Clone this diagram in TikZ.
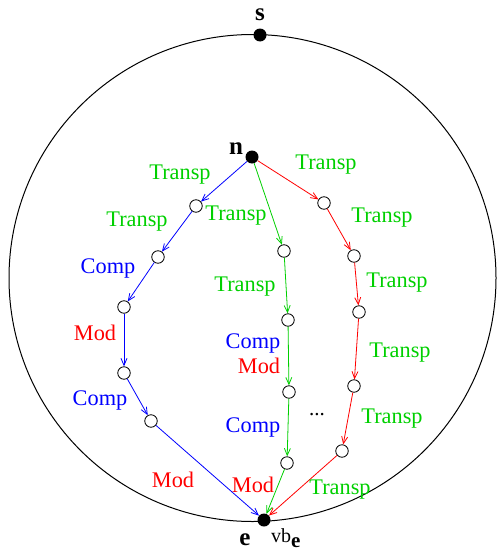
\documentclass[tikz,border=0pt]{standalone}
\usepackage{fontspec}
\setmainfont{Liberation Serif}
\usetikzlibrary{arrows.meta}
\definecolor{xgreen}{RGB}{0,208,0}
\definecolor{xblue}{RGB}{0,0,255}
\definecolor{xred}{RGB}{255,0,0}
\tikzset{
  vtx/.style={circle,fill=black,inner sep=0pt,minimum size=13pt},
  ovtx/.style={circle,draw=black,fill=white,line width=0.8pt,inner sep=0pt,minimum size=12.5pt},
  bline/.style={xblue,line width=0.8pt,-{Straight Barb[length=7pt,width=6pt]}},
  gline/.style={xgreen,line width=0.8pt,-{Straight Barb[length=7pt,width=6pt]}},
  rline/.style={xred,line width=0.8pt,-{Straight Barb[length=7pt,width=6pt]}},
  tlab/.style={font=\fontsize{22.3}{26}\selectfont,text=xgreen,inner sep=0pt},
  clab/.style={font=\fontsize{22.3}{26}\selectfont,text=xblue,inner sep=0pt},
  mlab/.style={font=\fontsize{22.3}{26}\selectfont,text=xred,inner sep=0pt},
  plab/.style={font=\fontsize{25}{30}\selectfont\bfseries,inner sep=0pt}
}
\begin{document}
\begin{tikzpicture}[x=1pt,y=-1pt]
  \useasboundingbox (0,0) rectangle (496,554);
  \draw[line width=1pt] (252.5,278) circle (243.5pt);
  % special points
  \node[vtx] (s) at (260,35) {}; \node[plab] (sl) at (260,15) {s};
  \node[vtx] (n) at (252,157) {}; \node[plab] (nl) at (236,149) {n};
  \node[vtx] (e) at (264,520) {}; \node[plab] (el) at (245,540) {e};
  \node[anchor=base west,inner sep=0pt,font=\fontsize{20}{22}\selectfont] (vb) at (271,542) {vb\raisebox{-5pt}{\fontsize{21}{22}\selectfont\bfseries e}};
  % blue branch
  \node[ovtx] (b1) at (196,206) {}; \node[ovtx] (b2) at (158,257) {};
  \node[ovtx] (b3) at (124,307) {}; \node[ovtx] (b4) at (124,373) {};
  \node[ovtx] (b5) at (151,421) {};
  \draw[bline] (n) -- (b1); \draw[bline] (b1) -- (b2); \draw[bline] (b2) -- (b3);
  \draw[bline] (b3) -- (b4); \draw[bline] (b4) -- (b5); \draw[bline] (b5) -- (e);
  % green branch
  \node[ovtx] (g1) at (284,251) {}; \node[ovtx] (g2) at (288,320) {};
  \node[ovtx] (g3) at (289,392) {}; \node[ovtx] (g4) at (287,463) {};
  \draw[gline] (n) -- (g1); \draw[gline] (g1) -- (g2); \draw[gline] (g2) -- (g3);
  \draw[gline] (g3) -- (g4); \draw[gline] (g4) -- (e);
  % red branch
  \node[ovtx] (r1) at (324,203) {}; \node[ovtx] (r2) at (354,256) {};
  \node[ovtx] (r3) at (359,312) {}; \node[ovtx] (r4) at (354,386) {};
  \node[ovtx] (r5) at (342,451) {};
  \draw[rline] (n) -- (r1); \draw[rline] (r1) -- (r2); \draw[rline] (r2) -- (r3);
  \draw[rline] (r3) -- (r4); \draw[rline] (r4) -- (r5); \draw[rline] (r5) -- (e);
  % labels
  \node[tlab] (lb1) at (180,175) {Transp}; \node[tlab] (lb2) at (137,222) {Transp};
  \node[clab] (lb3) at (108,268) {Comp}; \node[mlab] (lb4) at (95,333) {Mod};
  \node[clab] (lb5) at (100,400) {Comp}; \node[mlab] (lb6) at (173,480) {Mod};
  \node[tlab] (lg1) at (236,216) {Transp}; \node[tlab] (lg2) at (245,287) {Transp};
  \node[clab] (lg3) at (253,343) {Comp}; \node[mlab] (lg4) at (259,366) {Mod};
  \node[clab] (lg5) at (253,427) {Comp}; \node[mlab] (lg6) at (253,485) {Mod};
  \node[font=\fontsize{21}{25}\selectfont,inner sep=0pt] (dots) at (317,415) {...};
  \node[tlab] (lr1) at (326,165) {Transp}; \node[tlab] (lr2) at (382,218) {Transp};
  \node[tlab] (lr3) at (397,283) {Transp}; \node[tlab] (lr4) at (400,353) {Transp};
  \node[tlab] (lr5) at (392,419) {Transp}; \node[tlab] (lr6) at (340,490) {Transp};
\end{tikzpicture}
\end{document}
